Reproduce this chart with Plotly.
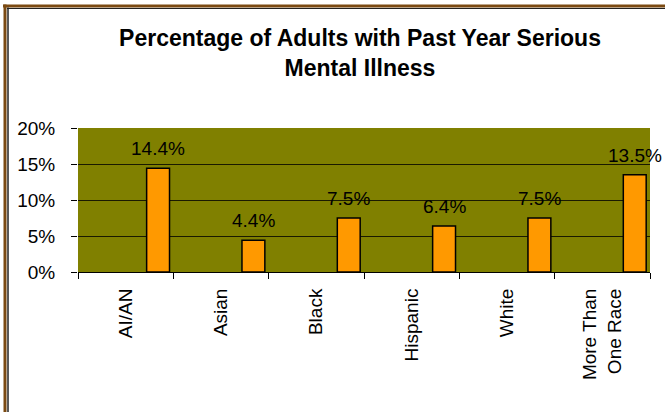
import plotly.graph_objects as go

# Serious mental illness rates by race/ethnicity (percent of adults)
categories = ["AI/AN", "Asian", "Black", "Hispanic", "White", "More Than<br>One Race"]
values = [14.4, 4.4, 7.5, 6.4, 7.5, 13.5]
y_ticks = [0, 5, 10, 15, 20]

W, H = 665, 412
L, R, T, B = 78, 15, 128, 140
PW, PH = W - L - R, H - T - B

BAR_WIDTH = 0.24
BAR_OFFSET = 0.22  # bars sit in the right part of each category slot


def px_x(px):
    return (px - L) / PW


def px_y(py):
    return 1 - (py - T) / PH


fig = go.Figure(
    go.Bar(
        x=categories,
        y=values,
        width=BAR_WIDTH,
        offset=BAR_OFFSET,
        marker=dict(color="#FF9900", line=dict(color="black", width=1.5)),
        cliponaxis=False,
    )
)

# value labels above each bar
annotations = [
    dict(
        x=i + BAR_OFFSET + BAR_WIDTH / 2,
        y=v,
        xref="x",
        yref="y",
        text=f"{v:.1f}%",
        showarrow=False,
        xanchor="center",
        yanchor="bottom",
        yshift=7,
        font=dict(family="Liberation Sans", size=19, color="black"),
    )
    for i, v in enumerate(values)
]

frame = "#7B4A12"
shapes = [
    # brown frame along the top and left edges, with a dark inner rule
    dict(type="line", xref="paper", yref="paper", x0=px_x(3), x1=px_x(W + 5),
         y0=px_y(6), y1=px_y(6), line=dict(color=frame, width=3)),
    dict(type="line", xref="paper", yref="paper", x0=px_x(7), x1=px_x(W + 5),
         y0=px_y(8.5), y1=px_y(8.5), line=dict(color="#222222", width=1)),
    dict(type="line", xref="paper", yref="paper", x0=px_x(5), x1=px_x(5),
         y0=px_y(4.5), y1=px_y(H + 5), line=dict(color=frame, width=3)),
    dict(type="line", xref="paper", yref="paper", x0=px_x(8), x1=px_x(8),
         y0=px_y(7.5), y1=px_y(H + 5), line=dict(color="#222222", width=1.5)),
]

fig.update_layout(
    width=W,
    height=H,
    margin=dict(l=L, r=R, t=T, b=B),
    paper_bgcolor="white",
    plot_bgcolor="#808000",
    showlegend=False,
    font=dict(family="Liberation Sans", size=19, color="black"),
    title=dict(
        text="<b>Percentage of Adults with Past Year Serious<br>Mental Illness</b>",
        x=0.493,
        xref="paper",
        xanchor="center",
        y=1 - 46 / H,
        yref="container",
        yanchor="top",
        font=dict(family="Liberation Sans", size=23, color="black"),
    ),
    xaxis=dict(
        type="category",
        range=[-0.5, len(categories) - 0.5],
        tickson="boundaries",
        ticks="outside",
        ticklen=6,
        tickcolor="black",
        tickangle=-90,
        showline=True,
        linecolor="black",
        linewidth=1,
        showgrid=False,
        ticklabelstandoff=8,
    ),
    yaxis=dict(
        range=[0, 20],
        tickvals=y_ticks,
        ticktext=[f"{v}%" for v in y_ticks],
        ticks="outside",
        ticklen=6,
        tickcolor="black",
        showgrid=True,
        gridcolor="#1a1a00",
        gridwidth=1,
        zeroline=False,
        showline=False,
        ticklabelstandoff=12,
    ),
    annotations=annotations,
    shapes=shapes,
)

fig.write_html("out.html")
